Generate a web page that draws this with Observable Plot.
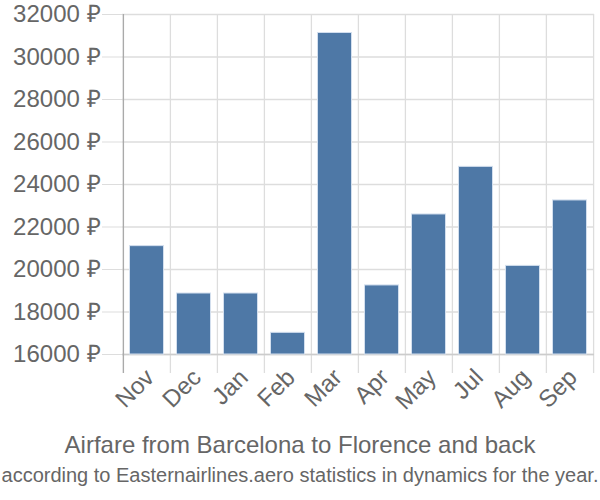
<!DOCTYPE html>
<html>
<head>
<meta charset="utf-8">
<script src="https://cdn.jsdelivr.net/npm/d3@7"></script>
<script src="https://cdn.jsdelivr.net/npm/@observablehq/plot@0.6"></script>
<style>
  body { margin: 0; background: #fff; font-family: "Liberation Sans", Arial, sans-serif; }
  #wrap { width: 600px; }
  .title { text-align: center; color: #666; font-size: 24px; line-height: 28px; padding-top: 11px; white-space: nowrap; }
  .sub { text-align: center; color: #666; font-size: 20px; line-height: 24px; padding-top: 4px; white-space: nowrap; }
</style>
</head>
<body>
<div id="wrap"></div>
<script>
const months = ["Nov", "Dec", "Jan", "Feb", "Mar", "Apr", "May", "Jul", "Aug", "Sep"];
const prices = [21100, 18870, 18870, 17020, 31130, 19250, 22590, 24830, 20170, 23250];
const yTicks = [16000, 18000, 20000, 22000, 24000, 26000, 28000, 30000, 32000];

const data = months.map((m, i) => ({month: m, price: prices[i]}));
const W = 600, mL = 122, mR = 6;
const bw = (W - mL - mR) / months.length;

const chart = Plot.plot({
  width: W,
  height: 420,
  marginLeft: mL,
  marginRight: mR,
  marginTop: 14,
  marginBottom: 66,
  style: {fontFamily: "'Liberation Sans', Arial, sans-serif", background: "#fff", overflow: "visible"},
  x: {domain: months, padding: 0, label: null},
  y: {domain: [16000, 32000], label: null},
  marks: [
    Plot.ruleY(yTicks, {stroke: "#ddd", strokeWidth: 1.3}),
    Plot.ruleX(months, {x: d => d, dx: -bw / 2, y1: 32000, y2: 16000, insetBottom: -19, stroke: "#ddd", strokeWidth: 1.3}),
    Plot.ruleX([months[months.length - 1]], {x: d => d, dx: bw / 2, y1: 32000, y2: 16000, insetBottom: -19, stroke: "#ddd", strokeWidth: 1.3}),
    Plot.ruleY([16000], {stroke: "#ccc", strokeWidth: 1.3}),
    Plot.ruleX([months[0]], {x: d => d, dx: -bw / 2, y1: 32000, y2: 16000, insetBottom: -19, stroke: "#aaa", strokeWidth: 1.3}),
    Plot.barY(data, {x: "month", y1: 16000, y2: "price", fill: "#4e78a6", stroke: "#d3dfee", strokeWidth: 1, insetLeft: 6.5, insetRight: 6.5}),
    Plot.axisY({ticks: yTicks, tickSize: 20, tickPadding: 2, stroke: "#ddd", fill: "#666", fontSize: 24, tickFormat: d => d + " ₽"}),
    Plot.axisX({tickSize: 0, tickPadding: 19, dx: 3, tickRotate: -45, fill: "#666", fontSize: 24})
  ]
});

const wrap = document.getElementById("wrap");
wrap.appendChild(chart);
const t = document.createElement("div"); t.className = "title";
t.textContent = "Airfare from Barcelona to Florence and back";
const s = document.createElement("div"); s.className = "sub";
s.textContent = "according to Easternairlines.aero statistics in dynamics for the year.";
wrap.appendChild(t); wrap.appendChild(s);
</script>
</body>
</html>
